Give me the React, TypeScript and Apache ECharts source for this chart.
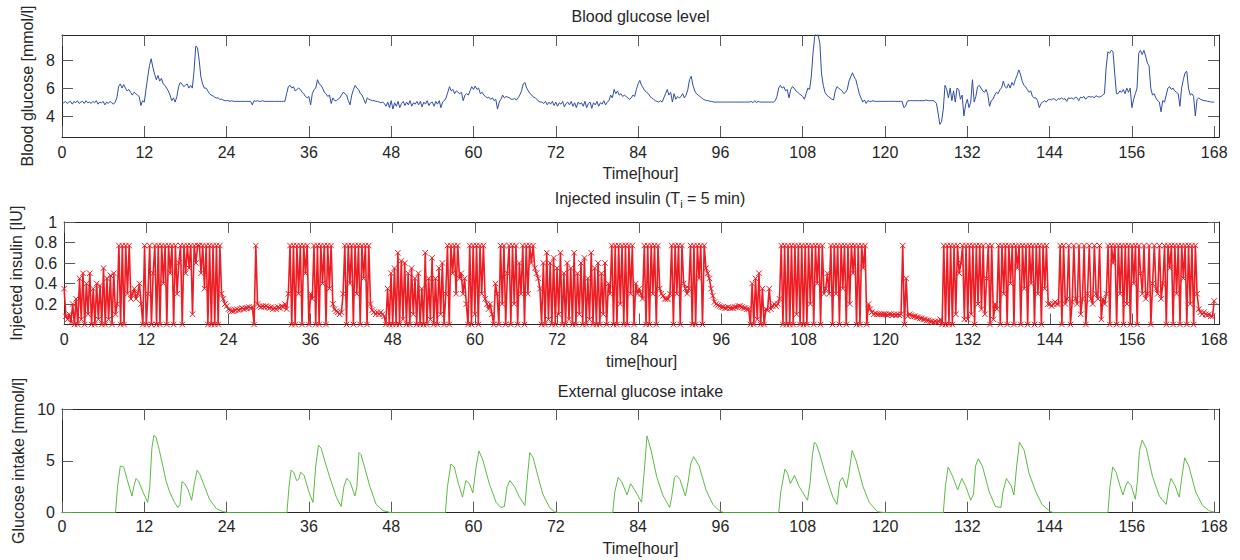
import React, { useEffect, useRef } from "react";
import * as echarts from "echarts";

// ---------- data ----------
const STEP_H = 0.25; // sampling step (hours) of the step arrays below
const hourTicks = [0, 12, 24, 36, 48, 60, 72, 84, 96, 108, 120, 132, 144, 156, 168];
const glucoseTicks = [4, 6, 8];
const insulinTicks = [0.2, 0.4, 0.6, 0.8, 1];
const intakeTicks = [0, 5, 10];

// Blood glucose [mmol/l], one value every 0.25 h, 8 values per row (2 h)
const bloodGlucose = [
  5.0, 4.95, 5.05, 4.9, 5.0, 5.05, 4.85, 5.05, // 0
  4.95, 5.1, 4.9, 5.0, 5.05, 4.9, 5.1, 4.95, // 2
  5.0, 4.9, 5.05, 4.95, 5.1, 4.85, 5.0, 4.95, // 4
  5.05, 4.8, 5.0, 4.9, 5.05, 4.95, 4.85, 5.0, // 6
  5.3, 6.1, 6.3, 6.0, 6.25, 6.0, 5.8, 5.9, // 8
  5.7, 5.5, 5.7, 5.6, 5.5, 5.4, 4.75, 5.1, // 10
  5.0, 5.9, 6.8, 7.6, 8.1, 7.5, 7.0, 6.6, // 12
  6.9, 6.5, 6.7, 6.3, 6.2, 6.0, 5.8, 5.5, // 14
  5.1, 5.3, 5.0, 5.4, 6.1, 6.4, 6.3, 6.1, // 16
  6.2, 6.3, 6.0, 6.2, 6.0, 7.2, 9.0, 8.9, // 18
  8.0, 6.8, 6.3, 6.0, 6.0, 5.8, 5.6, 5.5, // 20
  5.45, 5.35, 5.3, 5.3, 5.2, 5.2, 5.15, 5.1, // 22
  5.1, 5.1, 5.05, 5.1, 5.05, 5.05, 5.05, 5.05, // 24
  5.05, 5.05, 5.05, 5.05, 5.05, 5.05, 5.05, 4.8, // 26
  5.1, 5.05, 5.1, 5.05, 5.05, 5.1, 5.05, 5.05, // 28
  5.05, 5.05, 5.05, 5.05, 5.05, 5.05, 5.05, 5.05, // 30
  5.05, 5.05, 5.05, 5.6, 6.1, 6.2, 6.0, 6.1, // 32
  5.8, 5.9, 6.0, 5.9, 5.7, 5.6, 5.4, 5.3, // 34
  5.4, 4.8, 5.6, 5.9, 6.0, 6.6, 6.3, 6.2, // 36
  6.0, 5.7, 5.6, 5.4, 5.5, 4.9, 5.3, 5.1, // 38
  5.1, 5.2, 5.3, 5.5, 5.7, 5.6, 5.5, 5.1, // 40
  4.8, 5.5, 5.9, 6.2, 6.0, 5.9, 5.6, 5.5, // 42
  5.2, 4.9, 5.3, 5.2, 5.15, 5.1, 5.1, 5.05, // 44
  5.05, 5.0, 4.95, 5.0, 4.9, 4.7, 5.0, 4.6, // 46
  5.1, 4.5, 4.95, 4.7, 5.05, 4.6, 4.9, 5.05, // 48
  4.75, 5.0, 4.8, 5.1, 4.7, 4.95, 4.85, 5.05, // 50
  4.8, 5.05, 4.65, 5.0, 4.85, 5.1, 4.75, 4.95, // 52
  5.0, 4.7, 5.05, 4.85, 5.1, 4.6, 5.0, 5.1, // 54
  5.3, 5.7, 6.1, 5.8, 5.9, 5.6, 5.8, 5.7, // 56
  5.6, 5.7, 5.1, 5.5, 5.6, 5.5, 5.8, 6.1, // 58
  5.9, 6.15, 5.9, 6.0, 5.6, 5.7, 5.5, 5.4, // 60
  5.3, 5.35, 5.2, 5.3, 5.1, 5.2, 4.5, 5.0, // 62
  5.2, 5.5, 5.3, 5.4, 5.35, 5.3, 5.2, 5.2, // 64
  5.25, 5.15, 5.3, 5.5, 5.8, 6.3, 6.4, 6.0, // 66
  5.8, 5.6, 5.5, 5.35, 5.3, 5.2, 5.05, 5.0, // 68
  5.0, 4.9, 5.05, 4.8, 5.0, 4.85, 5.05, 4.75, // 70
  5.0, 4.7, 4.95, 4.85, 5.05, 4.65, 4.9, 5.0, // 72
  4.8, 5.05, 4.7, 4.95, 4.6, 5.0, 4.85, 4.95, // 74
  4.7, 5.05, 4.6, 4.9, 5.0, 4.55, 4.95, 4.8, // 76
  5.05, 4.7, 4.95, 4.85, 5.1, 4.8, 5.0, 5.1, // 78
  5.5, 5.3, 5.9, 5.6, 5.8, 5.5, 5.6, 5.4, // 80
  5.5, 5.4, 5.3, 5.2, 5.3, 5.5, 5.4, 5.9, // 82
  6.3, 6.55, 6.2, 6.0, 5.8, 5.7, 5.6, 5.4, // 84
  5.3, 5.2, 5.1, 5.05, 5.0, 5.1, 5.0, 5.3, // 86
  5.6, 5.9, 5.5, 5.7, 5.0, 5.6, 5.2, 5.4, // 88
  5.3, 5.4, 5.6, 5.3, 5.5, 5.9, 6.6, 6.85, // 90
  6.2, 5.8, 5.6, 5.5, 5.4, 5.3, 5.2, 5.15, // 92
  5.1, 5.1, 5.05, 5.05, 5.0, 5.0, 5.0, 5.0, // 94
  5.0, 5.0, 5.0, 5.0, 5.0, 5.0, 5.0, 5.0, // 96
  5.0, 5.0, 5.0, 5.0, 5.0, 5.0, 5.0, 5.0, // 98
  5.0, 5.0, 5.05, 4.95, 5.1, 4.95, 5.05, 5.0, // 100
  5.0, 5.0, 5.0, 5.0, 5.0, 5.0, 5.0, 5.0, // 102
  5.1, 5.4, 6.0, 6.2, 6.0, 6.1, 5.8, 5.9, // 104
  5.3, 5.9, 6.1, 6.0, 5.8, 5.7, 5.6, 5.5, // 106
  5.4, 5.2, 5.6, 6.0, 5.9, 6.8, 8.5, 9.7, // 108
  10.0, 9.8, 9.2, 7.0, 6.2, 5.7, 5.5, 5.4, // 110
  5.3, 5.2, 5.15, 5.8, 6.1, 6.0, 5.9, 5.8, // 112
  5.6, 5.7, 5.9, 6.5, 6.8, 7.1, 6.8, 6.6, // 114
  6.1, 5.6, 5.3, 5.0, 5.15, 4.9, 5.1, 5.05, // 116
  5.05, 5.1, 5.05, 5.05, 5.05, 5.05, 5.05, 5.05, // 118
  5.05, 5.05, 5.05, 5.05, 5.05, 5.05, 5.05, 5.05, // 120
  5.05, 5.05, 5.05, 4.6, 4.7, 5.05, 5.1, 5.1, // 122
  5.1, 5.1, 5.1, 5.1, 5.1, 5.1, 5.1, 5.1, // 124
  5.15, 5.1, 5.1, 5.1, 5.1, 5.05, 4.9, 4.2, // 126
  3.4, 3.6, 4.5, 6.2, 5.9, 5.3, 6.0, 5.1, // 128
  5.8, 5.0, 6.0, 5.9, 5.2, 5.5, 4.0, 4.8, // 130
  5.2, 4.6, 5.0, 6.6, 5.0, 5.4, 6.1, 6.2, // 132
  6.0, 5.8, 5.7, 5.9, 5.5, 4.7, 5.1, 5.2, // 134
  5.5, 5.7, 5.6, 5.9, 6.0, 6.5, 6.1, 6.0, // 136
  6.3, 6.0, 6.4, 6.2, 6.6, 6.9, 7.3, 7.0, // 138
  6.5, 6.2, 6.1, 5.9, 5.7, 5.8, 5.4, 5.3, // 140
  5.3, 5.1, 4.6, 4.9, 5.0, 5.1, 5.0, 5.15, // 142
  5.2, 5.15, 5.25, 5.2, 5.1, 5.25, 5.2, 5.3, // 144
  5.2, 5.25, 5.05, 5.3, 5.25, 5.3, 5.2, 5.35, // 146
  5.3, 5.1, 5.35, 5.3, 5.4, 5.2, 5.35, 5.4, // 148
  5.35, 5.4, 5.3, 5.45, 5.4, 5.35, 5.4, 5.5, // 150
  5.6, 7.5, 8.6, 8.5, 8.7, 8.6, 7.0, 5.6, // 152
  5.6, 5.8, 5.7, 5.9, 5.6, 6.0, 5.7, 6.0, // 154
  4.6, 5.2, 5.6, 6.0, 8.5, 8.7, 8.4, 8.7, // 156
  8.3, 7.8, 7.6, 6.0, 5.5, 5.6, 5.3, 5.1, // 158
  5.0, 4.3, 5.1, 5.0, 5.5, 6.0, 6.1, 5.9, // 160
  6.0, 5.8, 5.7, 5.6, 4.7, 6.0, 6.6, 7.1, // 162
  7.2, 6.0, 5.5, 5.6, 5.4, 4.0, 5.2, 5.3, // 164
  5.2, 5.15, 5.1, 5.1, 5.05, 5.05, 5.0, 5.0, // 166
  5.0, // 168
];

// Injected insulin [IU], one value every 0.25 h, 8 values per row (2 h)
const injectedInsulin = [
  0.35, 0.08, 0.05, 0.1, 0.02, 0.2, 0, 0.25, // 0
  0, 0.45, 0.05, 0.5, 0, 0.4, 0.1, 0.5, // 2
  0, 0.35, 0, 0.4, 0.05, 0.38, 0, 0.55, // 4
  0, 0.45, 0.05, 0.48, 0, 0.5, 0.1, 0.2, // 6
  0.77, 0, 0.77, 0, 0.77, 0.3, 0.77, 0.25, // 8
  0.3, 0.35, 0.25, 0.3, 0.4, 0.2, 0, 0.77, // 10
  0, 0.3, 0.77, 0, 0.5, 0.77, 0, 0.77, // 12
  0, 0.77, 0.4, 0.77, 0, 0.77, 0.5, 0.77, // 14
  0, 0.77, 0.3, 0.6, 0.77, 0, 0.77, 0.5, // 16
  0.77, 0.55, 0.77, 0.1, 0.77, 0.6, 0.77, 0.77, // 18
  0.5, 0.77, 0.35, 0.77, 0, 0.77, 0, 0.77, // 20
  0, 0.77, 0, 0.77, 0.3, 0.25, 0.2, 0.18, // 22
  0.15, 0.14, 0.13, 0.13, 0.14, 0.15, 0.14, 0.15, // 24
  0.16, 0.15, 0.16, 0.16, 0.17, 0.16, 0.17, 0, // 26
  0.77, 0.2, 0.18, 0.17, 0.18, 0.17, 0.18, 0.17, // 28
  0.16, 0.17, 0.15, 0.16, 0.15, 0.17, 0.16, 0.18, // 30
  0.17, 0.2, 0.15, 0.3, 0.77, 0, 0.77, 0, // 32
  0.77, 0.3, 0.77, 0, 0.77, 0.5, 0.77, 0, // 34
  0.3, 0.25, 0.77, 0, 0.77, 0, 0.77, 0.4, // 36
  0.77, 0, 0.77, 0.35, 0.77, 0.2, 0.15, 0.13, // 38
  0.12, 0.1, 0.12, 0.3, 0.77, 0, 0.77, 0.4, // 40
  0.77, 0, 0.77, 0.3, 0.77, 0, 0.77, 0.45, // 42
  0.77, 0, 0.77, 0.2, 0.14, 0.12, 0.1, 0.12, // 44
  0.1, 0.12, 0.1, 0.08, 0, 0.35, 0, 0.5, // 46
  0, 0.55, 0, 0.7, 0, 0.62, 0.05, 0.6, // 48
  0, 0.5, 0, 0.55, 0.1, 0.45, 0, 0.5, // 50
  0, 0.35, 0, 0.7, 0, 0.45, 0.05, 0.65, // 52
  0, 0.45, 0, 0.55, 0.1, 0.6, 0, 0.3, // 54
  0.77, 0, 0.77, 0.5, 0.77, 0.3, 0.77, 0.45, // 56
  0.5, 0.3, 0.45, 0.2, 0, 0.77, 0, 0.77, // 58
  0.1, 0.77, 0, 0.77, 0.3, 0.77, 0.25, 0.2, // 60
  0.15, 0.2, 0.1, 0, 0.4, 0.3, 0, 0.77, // 62
  0.2, 0.77, 0, 0.5, 0.77, 0, 0.77, 0.2, // 64
  0.77, 0, 0.6, 0.3, 0.77, 0, 0.77, 0.3, // 66
  0.77, 0.6, 0.77, 0.55, 0.5, 0.45, 0.35, 0, // 68
  0.6, 0, 0.7, 0.05, 0.6, 0, 0.65, 0, // 70
  0.55, 0.1, 0.7, 0, 0.5, 0, 0.6, 0.05, // 72
  0.55, 0, 0.7, 0, 0.5, 0.1, 0.6, 0, // 74
  0.65, 0, 0.45, 0.05, 0.7, 0, 0.55, 0, // 76
  0.6, 0, 0.5, 0.1, 0.6, 0, 0.4, 0.3, // 78
  0.77, 0, 0.77, 0, 0.77, 0.2, 0.77, 0, // 80
  0.77, 0, 0.77, 0.3, 0.77, 0, 0.4, 0.3, // 82
  0.35, 0.3, 0.25, 0.77, 0, 0.77, 0, 0.77, // 84
  0.3, 0.77, 0, 0.77, 0.35, 0.3, 0.28, 0.25, // 86
  0.25, 0.25, 0.3, 0.77, 0, 0.77, 0.3, 0.77, // 88
  0, 0.77, 0.4, 0.35, 0.3, 0.35, 0.77, 0, // 90
  0.77, 0, 0.77, 0.45, 0.77, 0, 0.77, 0.55, // 92
  0.5, 0.45, 0.35, 0.28, 0.22, 0.2, 0.19, 0.18, // 94
  0.17, 0.17, 0.16, 0.16, 0.17, 0.16, 0.16, 0.16, // 96
  0.17, 0.17, 0.18, 0.18, 0.17, 0.16, 0.16, 0.15, // 98
  0.15, 0, 0.4, 0, 0.45, 0.05, 0.5, 0, // 100
  0.35, 0, 0.15, 0.14, 0.35, 0.15, 0.18, 0.2, // 102
  0.18, 0.2, 0.25, 0.77, 0, 0.77, 0, 0.77, // 104
  0, 0.77, 0, 0.77, 0.1, 0.77, 0, 0.77, // 106
  0, 0.77, 0, 0.77, 0.2, 0.77, 0, 0.77, // 108
  0.4, 0.77, 0, 0.77, 0.3, 0.35, 0.5, 0.3, // 110
  0.77, 0, 0.77, 0.3, 0.77, 0, 0.77, 0.35, // 112
  0.77, 0, 0.77, 0.2, 0.77, 0.5, 0.77, 0, // 114
  0.77, 0, 0.77, 0.55, 0.77, 0, 0.2, 0.15, // 116
  0.12, 0.1, 0.11, 0.1, 0.1, 0.1, 0.1, 0.1, // 118
  0.1, 0.09, 0.1, 0.1, 0.09, 0.1, 0.09, 0.1, // 120
  0.09, 0.1, 0.77, 0, 0.45, 0.08, 0.1, 0.09, // 122
  0.08, 0.08, 0.07, 0.07, 0.06, 0.06, 0.05, 0.05, // 124
  0.04, 0.04, 0.03, 0.03, 0.02, 0.03, 0.02, 0.03, // 126
  0.05, 0, 0.77, 0, 0.77, 0, 0.77, 0, // 128
  0.77, 0.1, 0.77, 0.5, 0.6, 0.77, 0.05, 0.77, // 130
  0.05, 0.77, 0.1, 0.77, 0, 0.77, 0.2, 0.77, // 132
  0.15, 0.77, 0.1, 0.45, 0.77, 0, 0.77, 0.05, // 134
  0.2, 0.15, 0.77, 0, 0.77, 0.3, 0.77, 0, // 136
  0.77, 0.4, 0.77, 0, 0.77, 0.55, 0.77, 0, // 138
  0.77, 0.35, 0.77, 0, 0.77, 0.4, 0.77, 0, // 140
  0.77, 0.3, 0.77, 0, 0.77, 0.35, 0.77, 0.2, // 142
  0.2, 0.18, 0.2, 0.22, 0.2, 0.2, 0.77, 0, // 144
  0.77, 0.2, 0.25, 0.77, 0, 0.22, 0.77, 0.25, // 146
  0.2, 0.77, 0.1, 0.25, 0.77, 0, 0.3, 0.77, // 148
  0.25, 0.2, 0.77, 0.3, 0.25, 0.77, 0.05, 0.25, // 150
  0.2, 0.3, 0.77, 0, 0.77, 0.6, 0.77, 0, // 152
  0.77, 0.3, 0.77, 0, 0.77, 0.2, 0.77, 0, // 154
  0.77, 0.4, 0.77, 0, 0.77, 0.5, 0.3, 0.77, // 156
  0.25, 0.3, 0.77, 0, 0.4, 0.77, 0.35, 0.3, // 158
  0.77, 0.25, 0.4, 0.77, 0, 0.77, 0.55, 0.77, // 160
  0, 0.77, 0.3, 0.77, 0, 0.77, 0.45, 0.77, // 162
  0, 0.77, 0.2, 0.77, 0, 0.77, 0.3, 0.15, // 164
  0.12, 0.1, 0.12, 0.1, 0.09, 0.1, 0.08, 0.08, // 166
  0.23, // 168
];

// External glucose intake [mmol/l] as [hour, value]
const glucoseIntake: [number, number][] = [
  [0, 0], [7.8, 0], [8.1, 2.5], [8.5, 4.5], [9.0, 4.4], [9.5, 3.2], [10.2, 1.6], [10.5, 2.6], [10.8, 3.3], [11.2, 3.0], [11.8, 2.0], [12.5, 1.0], [12.8, 2.5], [13.1, 6.2], [13.4, 7.45], [13.7, 7.3], [14.2, 6.0], [14.7, 4.5], [15.2, 3.0], [15.7, 2.0], [16.4, 1.0], [16.9, 0.5], [17.2, 0.8], [17.5, 3.0], [17.9, 2.8], [18.4, 2.2], [18.9, 1.2], [19.3, 2.8], [19.7, 4.1], [20.1, 3.7], [20.8, 2.5], [21.5, 1.3], [22.5, 0.4], [23.5, 0.1], [24.5, 0],
  [32.8, 0], [33.1, 2.5], [33.4, 4.1], [33.8, 3.9], [34.2, 3.1], [34.5, 3.2], [34.8, 3.9], [35.3, 3.6], [36.0, 2.0], [36.6, 1.0], [37.0, 4.5], [37.4, 6.5], [37.8, 6.2], [38.4, 4.8], [39.0, 3.5], [40.0, 1.5], [40.7, 0.6], [41.1, 2.5], [41.5, 3.3], [42.0, 3.0], [42.7, 1.6], [43.0, 2.5], [43.3, 5.8], [43.6, 5.6], [44.2, 4.2], [44.9, 2.5], [45.8, 0.8], [46.8, 0.2], [48, 0],
  [55.9, 0], [56.2, 2.5], [56.7, 4.7], [57.2, 4.4], [57.8, 2.8], [58.4, 1.5], [58.7, 2.5], [58.9, 3.1], [59.4, 2.8], [59.9, 1.9], [60.4, 4.5], [60.8, 5.95], [61.4, 5.0], [62.3, 2.8], [63.3, 1.0], [64.0, 0.5], [64.5, 0.6], [64.9, 2.5], [65.3, 3.1], [66.0, 2.5], [66.7, 1.5], [67.5, 0.7], [67.8, 3.0], [68.2, 5.8], [68.7, 5.3], [69.4, 3.5], [70.1, 1.8], [71.1, 0.5], [71.8, 0.1], [72.5, 0],
  [80.3, 0], [80.6, 2.0], [81.1, 3.4], [81.6, 3.0], [82.4, 1.7], [82.9, 2.8], [83.5, 2.2], [84.5, 1.0], [84.9, 4.0], [85.3, 7.4], [85.9, 6.0], [86.7, 3.5], [87.6, 1.7], [88.6, 0.5], [88.9, 1.5], [89.3, 3.4], [89.6, 3.6], [90.1, 3.2], [90.9, 1.6], [91.3, 3.0], [91.7, 4.8], [92.1, 5.4], [92.9, 4.5], [93.9, 2.2], [94.9, 0.8], [95.8, 0.2], [96.5, 0],
  [104.5, 0], [104.8, 2.0], [105.4, 4.2], [105.8, 3.8], [106.2, 2.8], [106.8, 3.6], [107.5, 2.5], [108.7, 1.2], [109.1, 3.0], [109.4, 5.5], [109.7, 6.8], [110.0, 6.6], [110.5, 5.6], [111.4, 3.5], [112.4, 1.5], [113.0, 0.8], [113.4, 3.0], [113.8, 3.4], [114.4, 2.4], [114.8, 4.0], [115.2, 6.0], [115.8, 5.0], [116.8, 2.5], [117.7, 1.0], [118.9, 0.1], [120, 0],
  [128.5, 0], [128.8, 2.5], [129.2, 4.4], [129.8, 3.6], [130.6, 2.2], [131.2, 3.3], [131.8, 2.5], [132.5, 1.2], [132.9, 1.8], [133.2, 4.5], [133.6, 5.2], [134.2, 4.5], [135.2, 2.0], [136.1, 0.6], [136.9, 0.5], [137.2, 2.0], [137.7, 3.3], [138.4, 2.6], [138.8, 1.7], [139.2, 4.5], [139.6, 6.8], [140.3, 6.0], [141.0, 3.8], [142.0, 2.0], [142.9, 0.8], [143.9, 0.2], [144.5, 0],
  [152.5, 0], [152.8, 2.5], [153.2, 4.4], [153.7, 3.9], [154.3, 2.5], [154.7, 1.7], [155.1, 2.6], [155.4, 3.0], [155.9, 2.6], [156.5, 1.3], [156.8, 3.0], [157.1, 6.0], [157.5, 7.0], [158.1, 6.2], [159.0, 3.5], [160.0, 1.6], [161.0, 0.8], [161.4, 2.5], [161.7, 3.3], [162.3, 2.6], [162.9, 1.5], [163.3, 3.5], [163.7, 5.3], [164.3, 4.5], [165.3, 2.0], [166.3, 0.7], [167.2, 0.2], [168, 0.05],
];

// ---------- styling ----------
const FONT = '"Liberation Sans", Arial, Helvetica, sans-serif';
const TXT = "#262626";
const AXIS = "#262626";
const TICKC = "#5a5a5a";
const BLUE = "#2f4ea6";
const RED = "#ee1d24";
const GREEN = "#5cbb46";
const XMAX = 168.7;

const grids = [
  { left: 62, top: 35, width: 1157, height: 102 },
  { left: 62, top: 222, width: 1157, height: 102.5 },
  { left: 62, top: 409, width: 1157, height: 103.7 },
];

function xAxesFor(g: number, name: string, labelMargin: number, nameGap: number) {
  const tick = { show: true, inside: true, length: 11, customValues: hourTicks, lineStyle: { color: TICKC, width: 1 } };
  const line = { show: true, onZero: false, lineStyle: { color: AXIS, width: 1 } };
  return [
    {
      gridIndex: g, type: "value", min: 0, max: XMAX, position: "bottom",
      axisLine: line, axisTick: tick, splitLine: { show: false },
      axisLabel: { show: true, customValues: hourTicks, margin: labelMargin, fontSize: 16, fontFamily: FONT, color: TXT },
      name, nameLocation: "middle", nameGap,
      nameTextStyle: { fontSize: 16, fontFamily: FONT, color: TXT },
    },
    {
      gridIndex: g, type: "value", min: 0, max: XMAX, position: "top",
      axisLine: line, axisTick: tick, splitLine: { show: false }, axisLabel: { show: false },
    },
  ];
}

function yAxesFor(g: number, min: number, max: number, ticks: number[], name: string, nameGap: number) {
  const tick = { show: true, inside: true, length: 11, customValues: ticks, lineStyle: { color: TICKC, width: 1 } };
  const line = { show: true, onZero: false, lineStyle: { color: AXIS, width: 1 } };
  return [
    {
      gridIndex: g, type: "value", min, max, position: "left",
      axisLine: line, axisTick: tick, splitLine: { show: false },
      axisLabel: { show: true, customValues: ticks, margin: 7, fontSize: 16, fontFamily: FONT, color: TXT },
      name, nameLocation: "middle", nameGap, nameRotate: 90,
      nameTextStyle: { fontSize: 16, fontFamily: FONT, color: TXT },
    },
    {
      gridIndex: g, type: "value", min, max, position: "right",
      axisLine: line, axisTick: tick, splitLine: { show: false }, axisLabel: { show: false },
    },
  ];
}

function titleText(text: string, x: number, y: number, rich?: any) {
  return {
    type: "text",
    x, y,
    silent: true,
    style: {
      text, x: 0, y: 0,
      fill: TXT, font: `16px ${FONT}`,
      textAlign: "center", textVerticalAlign: "middle",
      align: "center", verticalAlign: "middle",
      rich,
    },
  };
}

export default function App() {
  const ref = useRef<HTMLDivElement>(null);

  useEffect(() => {
    if (!ref.current) return;
    const chart = echarts.init(ref.current, undefined, { renderer: "svg" });

    const glucoseData = bloodGlucose.map((v, i) => [i * STEP_H, v]);
    const insulinData = injectedInsulin.map((v, i) => [i * STEP_H, v]);

    const option: any = {
      animation: false,
      backgroundColor: "#ffffff",
      textStyle: { fontFamily: FONT },
      grid: grids,
      xAxis: [
        ...xAxesFor(0, "Time[hour]", 7, 28),
        ...xAxesFor(1, "time[hour]", 7, 29),
        ...xAxesFor(2, "Time[hour]", 6, 28),
      ],
      yAxis: [
        ...yAxesFor(0, 2.5, 9.8, glucoseTicks, "Blood glucose [mmol/l]", 22),
        ...yAxesFor(1, 0, 1, insulinTicks, "Injected insulin [IU]", 35),
        ...yAxesFor(2, 0, 10, intakeTicks, "Glucose intake [mmol/l]", 29),
      ],
      graphic: [
        titleText("Blood glucose level", 640.5, 16),
        titleText("Injected insulin (T{sub|i} = 5 min)", 650, 198, {
          sub: { fontSize: 11, fontFamily: FONT, fill: TXT, color: TXT, padding: [11, 0, 0, 0] },
        }),
        titleText("External glucose intake", 640.5, 391),
      ],
      series: [
        {
          type: "line", xAxisIndex: 0, yAxisIndex: 0, data: glucoseData,
          showSymbol: false, silent: true, clip: true,
          lineStyle: { color: BLUE, width: 1 },
        },
        {
          type: "line", xAxisIndex: 2, yAxisIndex: 2, data: insulinData,
          symbol: "path://M0,0L10,10M10,0L0,10", symbolSize: 5.5,
          showSymbol: true, showAllSymbol: true, silent: true, clip: true,
          lineStyle: { color: RED, width: 1.6 },
          itemStyle: { color: RED, borderColor: RED, borderWidth: 1 },
        },
        {
          type: "line", xAxisIndex: 4, yAxisIndex: 4, data: glucoseIntake,
          showSymbol: false, silent: true, clip: true,
          lineStyle: { color: GREEN, width: 1 },
        },
      ],
    };

    chart.setOption(option);
    return () => chart.dispose();
  }, []);

  return (
    <div
      ref={ref}
      style={{ position: "fixed", left: 0, top: 0, width: 1240, height: 560, background: "#fff" }}
    />
  );
}
